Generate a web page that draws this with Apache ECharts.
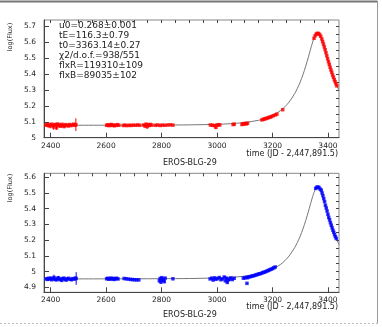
<!DOCTYPE html>
<html>
<head>
<meta charset="utf-8">
<script src="https://cdn.jsdelivr.net/npm/echarts@6/dist/echarts.min.js"></script>
<style>
  html, body { margin: 0; padding: 0; background: #fff; }
  #chart { width: 382px; height: 327px; }
</style>
</head>
<body>
<div id="chart"></div>
<script>
// 红色通道数据 (EROS-BLG-29)
var redT = [
  2383,2387,2391,2395,2398,2402,2406,2410,2414,2418,2421,2425,2429,2433,2437,2441,2445,2449,2453,2458,2463,2468,2473,2478,2483,2487,2491,
  2602,2606,2610,2614,2618,2622,2626,2631,2636,2641,2646,
  2662,2668,2675,2683,2690,2698,2706,2714,2721,
  2735,2740,2744,2748,2752,2756,2760,2765,
  2778,2786,2795,2803,2812,2822,2832,2841,
  2976,2983,2990,2996,3000,3005,3010,
  3058,3062,
  3090,3094,3098,3102,3106,3110,
  3162,3167,3172,3177,3182,3187,3192,3197,3203,3210,3216,
  3237,
  3350,3354,3358,3362,3366,3370,3374,
  3378,3381,3384,3387,3390,3393,3396,3399,3402,3405,3408,3411,3414,3417,3420,3423,3426,3429,3432
];
var redY = [
  5.079,5.083,5.076,5.081,5.074,5.085,5.078,5.068,5.083,5.079,5.062,5.086,5.075,5.081,5.072,5.084,5.077,5.070,5.082,5.079,5.074,5.083,5.076,5.080,5.085,5.078,5.082,
  5.078,5.081,5.076,5.079,5.083,5.077,5.080,5.075,5.079,5.082,5.078,
  5.077,5.079,5.076,5.078,5.077,5.079,5.078,5.080,5.078,
  5.080,5.074,5.085,5.070,5.082,5.077,5.083,5.079,
  5.078,5.080,5.077,5.079,5.078,5.080,5.081,5.079,
  5.080,5.078,5.076,5.065,5.079,5.082,5.080,
  5.083,5.085,
  5.083,5.088,5.086,5.090,5.087,5.091,
  5.112,5.116,5.118,5.121,5.124,5.127,5.130,5.133,5.138,5.143,5.148,
  5.176,
  5.625,5.641,5.652,5.656,5.655,5.649,5.638,
  5.621,5.604,5.588,5.571,5.553,5.534,5.515,5.496,5.478,5.461,5.443,5.426,5.411,5.394,5.380,5.365,5.352,5.339,5.326
];
var redErr = [
  0.006,0.005,0.008,0.006,0.015,0.006,0.007,0.018,0.006,0.005,0.012,0.007,0.006,0.010,0.006,0.005,0.008,0.006,0.006,0.005,0.009,0.006,0.005,0.006,0.007,0.006,0.040,
  0.004,0.005,0.004,0.006,0.004,0.004,0.005,0.004,0.004,0.005,0.004,
  0.003,0.003,0.003,0.003,0.003,0.003,0.003,0.003,0.003,
  0.006,0.012,0.008,0.015,0.006,0.010,0.007,0.005,
  0.003,0.003,0.003,0.003,0.003,0.003,0.003,0.003,
  0.004,0.004,0.005,0.010,0.004,0.004,0.004,
  0.004,0.004,
  0.004,0.006,0.004,0.005,0.004,0.004,
  0.004,0.004,0.004,0.006,0.004,0.004,0.004,0.004,0.004,0.004,0.004,
  0.004,
  0.005,0.005,0.005,0.005,0.005,0.005,0.005,
  0.005,0.005,0.005,0.005,0.005,0.005,0.005,0.005,0.005,0.005,0.005,0.005,0.005,0.005,0.005,0.005,0.005,0.005,0.005
];

// 蓝色通道数据
var blueT = [
  2384,2388,2392,2396,2400,2404,2408,2412,2416,2420,2424,2428,2432,2436,2440,2444,2448,2452,2456,2460,2465,2470,2475,2480,2485,2489,2492,
  2602,2606,2610,2614,2618,2622,2626,2630,2634,2638,2643,
  2665,2672,2680,2688,2695,2702,2710,2718,
  2792,2795,2798,2801,2804,2807,2810,2813,
  2841,
  2975,2981,2986,2991,2996,3002,3008,3014,3020,3026,3030,3034,3037,3040,3044,3050,3055,3062,
  3095,3100,3106,3108,3110,3115,3120,3125,3130,3135,3140,3145,3150,3155,3160,3165,3170,3175,3180,3185,3190,3195,3200,3205,3210,
  3356,3360,3364,3368,3372,
  3376,3379,3382,3385,3388,3391,3394,3397,3400,3403,3406,3409,3412,3415,3418,3421,3424,3427,3430
];
var blueY = [
  4.954,4.950,4.957,4.952,4.958,4.948,4.955,4.962,4.951,4.947,4.956,4.960,4.949,4.953,4.944,4.955,4.958,4.950,4.946,4.954,4.957,4.951,4.948,4.955,4.952,4.958,4.956,
  4.954,4.957,4.951,4.955,4.958,4.952,4.956,4.950,4.955,4.957,4.953,
  4.956,4.954,4.952,4.950,4.949,4.948,4.947,4.947,
  4.941,4.956,4.933,4.961,4.945,4.952,4.936,4.958,
  4.954,
  4.953,4.958,4.946,4.960,4.951,4.955,4.962,4.948,4.953,4.965,4.941,4.958,4.931,4.946,4.951,4.960,4.949,4.957,
  4.958,4.960,4.963,4.925,4.961,4.966,4.968,4.970,4.973,4.975,4.978,4.981,4.984,4.986,4.989,4.993,4.996,4.999,5.003,5.007,5.011,5.015,5.019,5.024,5.029,
  5.529,5.536,5.538,5.534,5.524,
  5.518,5.500,5.483,5.464,5.445,5.422,5.404,5.385,5.364,5.345,5.329,5.311,5.295,5.279,5.263,5.250,5.235,5.222,5.210
];
var blueErr = [
  0.005,0.005,0.006,0.005,0.008,0.005,0.006,0.018,0.005,0.006,0.010,0.012,0.005,0.006,0.008,0.005,0.006,0.005,0.007,0.005,0.006,0.005,0.006,0.005,0.006,0.007,0.040,
  0.004,0.004,0.004,0.004,0.004,0.004,0.004,0.004,0.004,0.004,0.004,
  0.003,0.003,0.003,0.003,0.003,0.003,0.003,0.003,
  0.010,0.006,0.012,0.006,0.008,0.005,0.010,0.005,
  0.003,
  0.005,0.005,0.006,0.005,0.005,0.005,0.006,0.005,0.005,0.008,0.006,0.008,0.010,0.006,0.005,0.005,0.005,0.005,
  0.004,0.004,0.004,0.004,0.004,0.004,0.004,0.004,0.004,0.004,0.004,0.004,0.004,0.004,0.004,0.004,0.004,0.004,0.004,0.004,0.004,0.004,0.004,0.004,0.004,
  0.005,0.005,0.005,0.005,0.005,
  0.005,0.005,0.005,0.005,0.005,0.005,0.005,0.005,0.005,0.005,0.005,0.005,0.005,0.005,0.005,0.005,0.005,0.005,0.005
];

// 拟合曲线
var modelT = [2376,2600,2700,2800,2900,3000,3050,3100,3150,3175,3200,3230,3245,3260,3280,3290,3300,3310,3320,3330,3335,3340,3345,3350,3355,3363,3370,3375,3380,3390,3400,3410,3420,3430,3440];
var modelTop = [5.078,5.0785,5.0788,5.0796,5.0807,5.0843,5.0882,5.0955,5.1096,5.1216,5.1391,5.1714,5.1945,5.2240,5.2767,5.3104,5.3499,5.3962,5.4497,5.5095,5.5408,5.5721,5.6019,5.6277,5.6477,5.6613,5.6516,5.6336,5.6089,5.5490,5.4866,5.4290,5.3783,5.3345,5.2972];
var modelBottom = [4.953,4.9535,4.9538,4.9546,4.9557,4.9593,4.9632,4.9705,4.9846,4.9966,5.0141,5.0464,5.0695,5.0990,5.1517,5.1854,5.2249,5.2712,5.3247,5.3845,5.4158,5.4471,5.4769,5.5027,5.5227,5.5363,5.5266,5.5086,5.4839,5.4240,5.3616,5.3040,5.2533,5.2095,5.1722];

// 刻度
var xTicks = [2400,2600,2800,3000,3200,3400];
var xMinorTicks = [2400,2450,2500,2550,2600,2650,2700,2750,2800,2850,2900,2950,3000,3050,3100,3150,3200,3250,3300,3350,3400];
var yTicksTop = [5,5.1,5.2,5.3,5.4,5.5,5.6,5.7];
var yMinorTop = [5,5.05,5.1,5.15,5.2,5.25,5.3,5.35,5.4,5.45,5.5,5.55,5.6,5.65,5.7];
var yTicksBottom = [4.9,5,5.1,5.2,5.3,5.4,5.5,5.6];
var yMinorBottom = [4.9,4.95,5,5.05,5.1,5.15,5.2,5.25,5.3,5.35,5.4,5.45,5.5,5.55,5.6];

var fitLines = [
  'u0=0.268\u00b10.001',
  'tE=116.3\u00b10.79',
  't0=3363.14\u00b10.27',
  '\u03c72/d.o.f.=938/551',
  'flxR=119310\u00b1109',
  'flxB=89035\u00b1102'
];

var FONT = 'DejaVu Sans';
var AXIS_COLOR = '#444';

function zip(a, b){
  var out = [];
  for (var i = 0; i < a.length; i++) out.push([a[i], b[i]]);
  return out;
}
function errData(t, y, e){
  var out = [];
  for (var i = 0; i < t.length; i++) out.push([t[i], y[i] - e[i], y[i] + e[i]]);
  return out;
}
function fmt(v){ return String(Math.round(v * 100) / 100); }

function majorX(g){
  return {
    type: 'value', gridIndex: g, min: 2376, max: 3440,
    axisLine: { show: true, onZero: false, lineStyle: { color: AXIS_COLOR, width: 1 } },
    axisTick: { show: true, inside: true, length: 5, customValues: xTicks, lineStyle: { color: AXIS_COLOR } },
    axisLabel: { customValues: xTicks, margin: 4, fontSize: 7.5, fontFamily: FONT, color: '#222', formatter: fmt },
    splitLine: { show: false }
  };
}
function minorX(g){
  return {
    type: 'value', gridIndex: g, min: 2376, max: 3440,
    axisLine: { show: false },
    axisTick: { show: true, inside: true, length: 3, customValues: xMinorTicks, lineStyle: { color: AXIS_COLOR } },
    axisLabel: { show: false },
    splitLine: { show: false }
  };
}
function majorY(g, mn, mx, ticks){
  return {
    type: 'value', gridIndex: g, min: mn, max: mx,
    axisLine: { show: true, onZero: false, lineStyle: { color: AXIS_COLOR, width: 1 } },
    axisTick: { show: true, inside: true, length: 5, customValues: ticks, lineStyle: { color: AXIS_COLOR } },
    axisLabel: { customValues: ticks, margin: 8, fontSize: 7.5, fontFamily: FONT, color: '#222', formatter: fmt },
    splitLine: { show: false }
  };
}
function minorY(g, mn, mx, ticks){
  return {
    type: 'value', gridIndex: g, min: mn, max: mx,
    axisLine: { show: false },
    axisTick: { show: true, inside: true, length: 3, customValues: ticks, lineStyle: { color: AXIS_COLOR } },
    axisLabel: { show: false },
    splitLine: { show: false }
  };
}
function errSeries(xi, yi, data, color){
  return {
    type: 'custom', xAxisIndex: xi, yAxisIndex: yi, z: 3,
    data: data,
    encode: { x: 0, y: [1, 2] },
    renderItem: function(params, api){
      var p1 = api.coord([api.value(0), api.value(1)]);
      var p2 = api.coord([api.value(0), api.value(2)]);
      return {
        type: 'line',
        shape: { x1: p1[0], y1: p1[1], x2: p2[0], y2: p2[1] },
        style: { stroke: color, lineWidth: 1 }
      };
    }
  };
}
function modelSeries(xi, yi, data){
  return {
    type: 'line', xAxisIndex: xi, yAxisIndex: yi, z: 2,
    data: data, showSymbol: false, smooth: 0.3,
    lineStyle: { color: '#777', width: 1 }
  };
}
function pointSeries(xi, yi, data, color){
  return {
    type: 'scatter', xAxisIndex: xi, yAxisIndex: yi, z: 4,
    data: data, symbol: 'rect', symbolSize: 3.5,
    itemStyle: { color: color }
  };
}
function txt(x, y, s, size, align, rot){
  var el = {
    type: 'text', x: x, y: y,
    style: {
      text: s, font: size + 'px "' + FONT + '"', fill: '#222',
      textAlign: align || 'left', textVerticalAlign: 'middle',
      align: align || 'left', verticalAlign: 'middle'
    }
  };
  if (rot) el.rotation = rot;
  return el;
}

var graphics = [
  { type: 'line', shape: { x1: 0, y1: 1.5, x2: 377.5, y2: 1.5 }, style: { stroke: '#777', lineWidth: 2 } },
  { type: 'line', shape: { x1: 377.5, y1: 1, x2: 377.5, y2: 323.5 }, style: { stroke: '#999', lineWidth: 1 } },
  { type: 'line', shape: { x1: 0, y1: 323.5, x2: 377.5, y2: 323.5 }, style: { stroke: '#bbb', lineWidth: 1, lineDash: [2, 2] } },
  txt(10, 37, 'log(Flux)', 6.5, 'center', Math.PI / 2),
  txt(10, 188, 'log(Flux)', 6.5, 'center', Math.PI / 2),
  txt(163, 163, 'EROS-BLG-29', 8),
  txt(163, 315, 'EROS-BLG-29', 8),
  txt(338, 154, 'time (JD - 2,447,891.5)', 8, 'right'),
  txt(338, 307, 'time (JD - 2,447,891.5)', 8, 'right')
];
for (var i = 0; i < fitLines.length; i++) {
  graphics.push(txt(59, 26 + i * 10, fitLines[i], 9));
}

var chart = echarts.init(document.getElementById('chart'));
chart.setOption({
  animation: false,
  backgroundColor: '#fff',
  grid: [
    { left: 44, top: 20, width: 295, height: 117.7, show: true, borderColor: '#888', borderWidth: 1 },
    { left: 44, top: 173.3, width: 295, height: 119, show: true, borderColor: '#888', borderWidth: 1 }
  ],
  xAxis: [majorX(0), minorX(0), majorX(1), minorX(1)],
  yAxis: [
    majorY(0, 5.0, 5.74, yTicksTop), minorY(0, 5.0, 5.74, yMinorTop),
    majorY(1, 4.868, 5.625, yTicksBottom), minorY(1, 4.868, 5.625, yMinorBottom)
  ],
  series: [
    modelSeries(0, 0, zip(modelT, modelTop)),
    errSeries(0, 0, errData(redT, redY, redErr), '#ff0000'),
    pointSeries(0, 0, zip(redT, redY), '#ff0000'),
    modelSeries(2, 2, zip(modelT, modelBottom)),
    errSeries(2, 2, errData(blueT, blueY, blueErr), '#0000ff'),
    pointSeries(2, 2, zip(blueT, blueY), '#0000ff')
  ],
  graphic: graphics
});
</script>
</body>
</html>
